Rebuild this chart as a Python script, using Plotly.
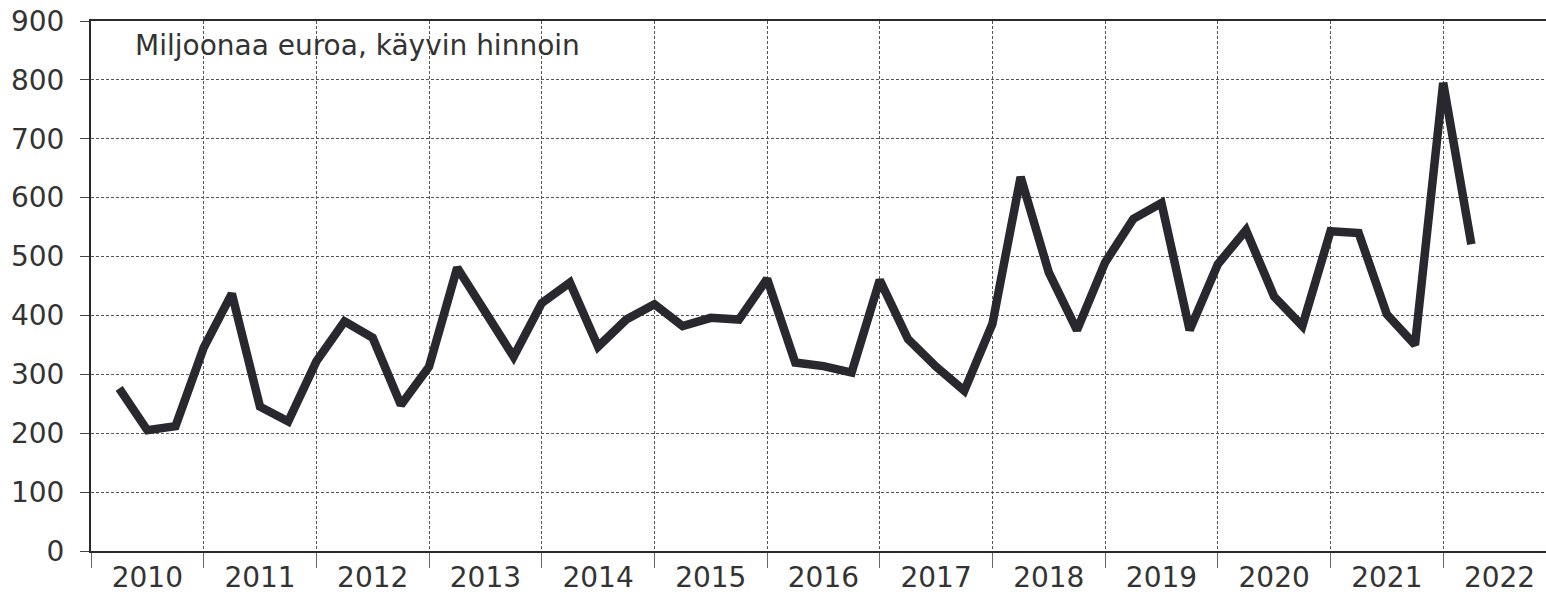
import plotly.graph_objects as go

years = [str(y) for y in range(2010, 2023)]
quarters = [
    "2010Q1", "2010Q2", "2010Q3", "2010Q4",
    "2011Q1", "2011Q2", "2011Q3", "2011Q4",
    "2012Q1", "2012Q2", "2012Q3", "2012Q4",
    "2013Q1", "2013Q2", "2013Q3", "2013Q4",
    "2014Q1", "2014Q2", "2014Q3", "2014Q4",
    "2015Q1", "2015Q2", "2015Q3", "2015Q4",
    "2016Q1", "2016Q2", "2016Q3", "2016Q4",
    "2017Q1", "2017Q2", "2017Q3", "2017Q4",
    "2018Q1", "2018Q2", "2018Q3", "2018Q4",
    "2019Q1", "2019Q2", "2019Q3", "2019Q4",
    "2020Q1", "2020Q2", "2020Q3", "2020Q4",
    "2021Q1", "2021Q2", "2021Q3", "2021Q4",
    "2022Q1",
]
values = [
    276, 205, 212, 345,
    437, 245, 220, 322,
    390, 362, 248, 313,
    481, 405, 330, 421,
    456, 347, 393, 419,
    382, 396, 393, 462,
    320, 314, 303, 460,
    360, 313, 272, 386,
    635, 473, 375, 490,
    564, 591, 375, 487,
    545, 432, 382, 543,
    540, 402, 350, 795,
    521,
]
label_text = "Miljoonaa euroa, käyvin hinnoin"

x_idx = list(range(len(values)))
year_centers = [4 * i + 1 for i in range(len(years))]

font_family = "DejaVu Sans"
text_color = "#333333"
line_color = "#28282e"
grid_color = "#555555"

fig = go.Figure()
fig.add_trace(go.Scatter(
    x=x_idx, y=values, mode="lines",
    line=dict(color=line_color, width=8.5),
    hovertext=quarters, showlegend=False,
))

fig.update_layout(
    width=1546, height=594,
    margin=dict(l=91, r=0, t=21, b=41),
    paper_bgcolor="white", plot_bgcolor="white",
    font=dict(family=font_family, size=28, color=text_color),
    xaxis=dict(
        range=[-1, 50.65],
        tickmode="array", tickvals=year_centers, ticktext=years,
        ticks="", showgrid=False, zeroline=False,
        showline=True, linecolor="#2a2a2e", linewidth=2, mirror=True,
        tickfont=dict(size=28, color=text_color),
        minor=dict(
            tickmode="array", tickvals=[4 * i - 1 for i in range(14)],
            ticks="outside", ticklen=15, tickcolor="#666666", tickwidth=1,
            showgrid=True, gridcolor=grid_color, gridwidth=1, griddash="3px,2px",
        ),
    ),
    yaxis=dict(
        range=[0, 900], dtick=100, tick0=0,
        ticks="outside", ticklen=9, tickcolor="#444444", tickwidth=1,
        ticklabelstandoff=10,
        showgrid=True, gridcolor=grid_color, gridwidth=1, griddash="3px,2px",
        zeroline=False, showline=True, linecolor="#2a2a2e", linewidth=2,
        tickfont=dict(size=28, color=text_color),
    ),
    annotations=[dict(
        text=label_text, xref="paper", yref="paper",
        x=(133 - 91) / 1455, y=(553 - 46) / 532,
        xanchor="left", yanchor="middle", showarrow=False,
        font=dict(family=font_family, size=28, color=text_color),
    )],
)

fig.write_html(
    "out.html",
    config={"displayModeBar": False},
    post_script="document.body.style.margin='0';document.body.style.overflow='hidden';",
)
